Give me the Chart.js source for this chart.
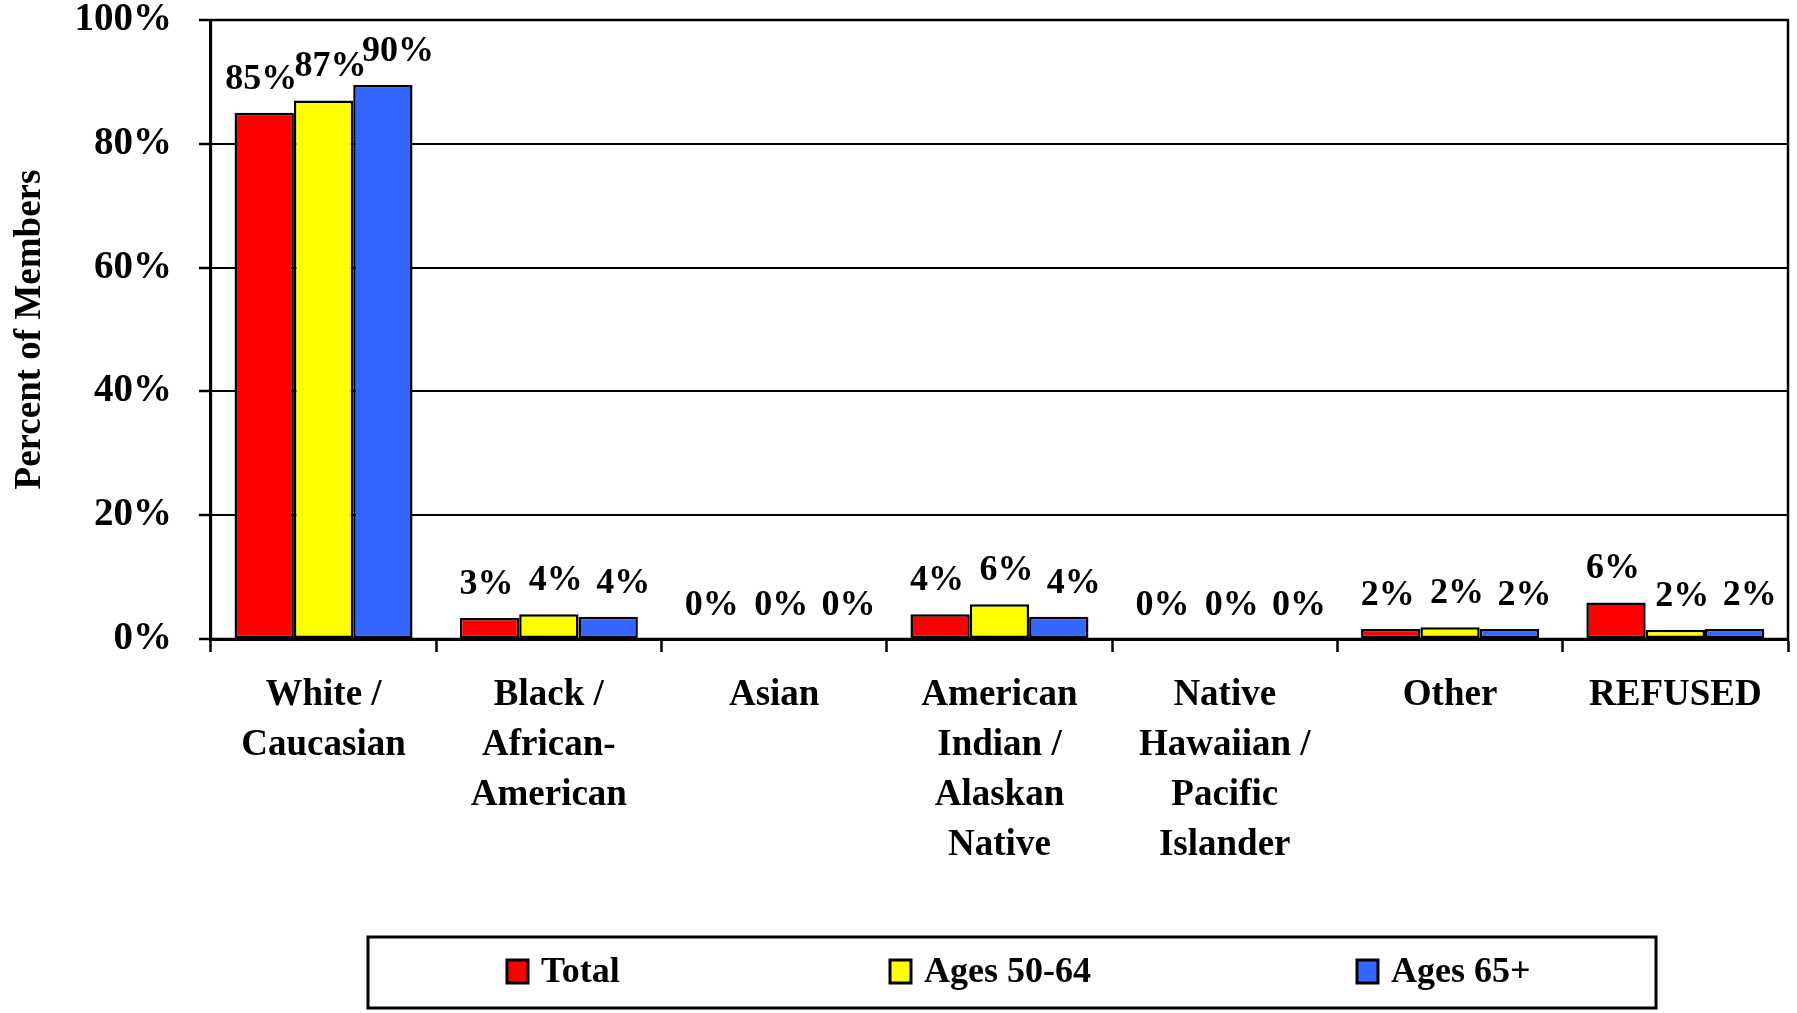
<!DOCTYPE html>
<html>
<head>
<meta charset="utf-8">
<title>Race of members</title>
<script src="https://cdn.jsdelivr.net/npm/chart.js@4/dist/chart.umd.min.js"></script>
<style>
  body { margin: 0; background: #fff; }
  #wrap { width: 1797px; height: 1013px; position: relative; }
</style>
</head>
<body>
<div id="wrap"><canvas id="canvas"></canvas></div>
<script>
//////////////////////// data ////////////////////////
var categories = [
    ['White /', 'Caucasian'],
    ['Black /', 'African-', 'American'],
    'Asian',
    ['American', 'Indian /', 'Alaskan', 'Native'],
    ['Native', 'Hawaiian /', 'Pacific', 'Islander'],
    'Other',
    'REFUSED'
];
var seriesNames = ['Total', 'Ages 50-64', 'Ages 65+'];
var total    = [85.0, 3.4, 0, 4.0, 0, 1.6, 5.9];
var ages5064 = [87.0, 4.0, 0, 5.6, 0, 1.9, 1.5];
var ages65   = [89.5, 3.6, 0, 3.6, 0, 1.6, 1.6];
var yTicks = [0, 20, 40, 60, 80, 100];

var colors = ['#FF0000', '#FFFF00', '#3366FF'];
var FONT = '"Liberation Serif", "Times New Roman", "DejaVu Serif", serif';

Chart.defaults.font.family = FONT;
Chart.defaults.font.weight = 'bold';
Chart.defaults.color = '#000';

//////////////////////// plugins ////////////////////////
// box around the plot (top + right edges)
var frame = {
    id: 'frame',
    afterDraw: function(chart){
        var a = chart.chartArea, ctx = chart.ctx;
        ctx.save();
        ctx.strokeStyle = '#000';
        ctx.lineWidth = 2.5;
        ctx.strokeRect(a.left, a.top, a.right - a.left, a.bottom - a.top);
        ctx.restore();
    }
};

// percent labels above each bar
var labelShift = [-3, 7, 15];
var valueLabels = {
    id: 'valueLabels',
    afterDatasetsDraw: function(chart){
        var ctx = chart.ctx;
        ctx.save();
        ctx.font = 'bold 36px ' + FONT;
        ctx.fillStyle = '#000';
        ctx.textAlign = 'center';
        ctx.textBaseline = 'alphabetic';
        chart.data.datasets.forEach(function(ds, i){
            var meta = chart.getDatasetMeta(i);
            meta.data.forEach(function(bar, j){
                ctx.fillText(Math.round(ds.data[j]) + '%', bar.x + labelShift[i], bar.y - 24);
            });
        });
        ctx.restore();
    }
};

// boxed legend under the chart
var boxLegend = {
    id: 'boxLegend',
    afterDraw: function(chart){
        var ctx = chart.ctx;
        var itemX = [507, 890, 1357];
        ctx.save();
        ctx.strokeStyle = '#000';
        ctx.lineWidth = 3;
        ctx.strokeRect(368, 937, 1288, 71);
        ctx.font = 'bold 36px ' + FONT;
        ctx.textBaseline = 'middle';
        ctx.textAlign = 'left';
        chart.data.datasets.forEach(function(ds, i){
            ctx.fillStyle = ds.backgroundColor;
            ctx.fillRect(itemX[i], 960, 21, 23);
            ctx.lineWidth = 3;
            ctx.strokeRect(itemX[i], 960, 21, 23);
            ctx.fillStyle = '#000';
            ctx.fillText(ds.label, itemX[i] + 34, 973);
        });
        ctx.restore();
    }
};

//////////////////////// chart ////////////////////////
var barData = {
    labels: categories,
    datasets: [total, ages5064, ages65].map(function(d, i){
        return {
            label: seriesNames[i],
            data: d,
            backgroundColor: colors[i],
            borderColor: '#000',
            borderWidth: 2.5,
            borderSkipped: false,
            barPercentage: 1.0,
            categoryPercentage: 0.79
        };
    })
};

var ctx = document.getElementById('canvas').getContext('2d');
window.myBar = new Chart(ctx, {
    type: 'bar',
    data: barData,
    options: {
        responsive: true,
        maintainAspectRatio: false,
        animation: false,
        layout: { padding: { left: 0, right: 9, top: 0, bottom: 125 } },
        plugins: {
            legend: { display: false },
            tooltip: { enabled: false }
        },
        scales: {
            x: {
                grid: {
                    offset: true,
                    drawOnChartArea: false,
                    drawTicks: true,
                    tickLength: 13,
                    tickWidth: 2.5,
                    tickColor: '#000'
                },
                border: { color: '#000', width: 3 },
                ticks: {
                    maxRotation: 0,
                    autoSkip: false,
                    padding: 18,
                    font: { size: 37, weight: 'bold', lineHeight: '50px' }
                }
            },
            y: {
                min: 0,
                max: 100,
                afterBuildTicks: function(scale){
                    scale.ticks = yTicks.map(function(v){ return { value: v }; });
                },
                afterFit: function(scale){
                    // only half a label of room above the 100% line
                    scale.paddingTop = 20;
                    scale.paddingBottom = 0;
                },
                grid: {
                    color: '#000',
                    lineWidth: 2,
                    drawTicks: true,
                    tickLength: 12,
                    tickWidth: 2.5,
                    tickColor: '#000'
                },
                border: { color: '#000', width: 3 },
                ticks: {
                    padding: 27,
                    font: { size: 39, weight: 'bold', lineHeight: 1.0 },
                    callback: function(v){ return v + '%'; }
                },
                title: {
                    display: true,
                    text: 'Percent of Members',
                    padding: { top: 8, bottom: -5 },
                    font: { size: 37, weight: 'bold' }
                }
            }
        }
    },
    plugins: [frame, valueLabels, boxLegend]
});
</script>
</body>
</html>
